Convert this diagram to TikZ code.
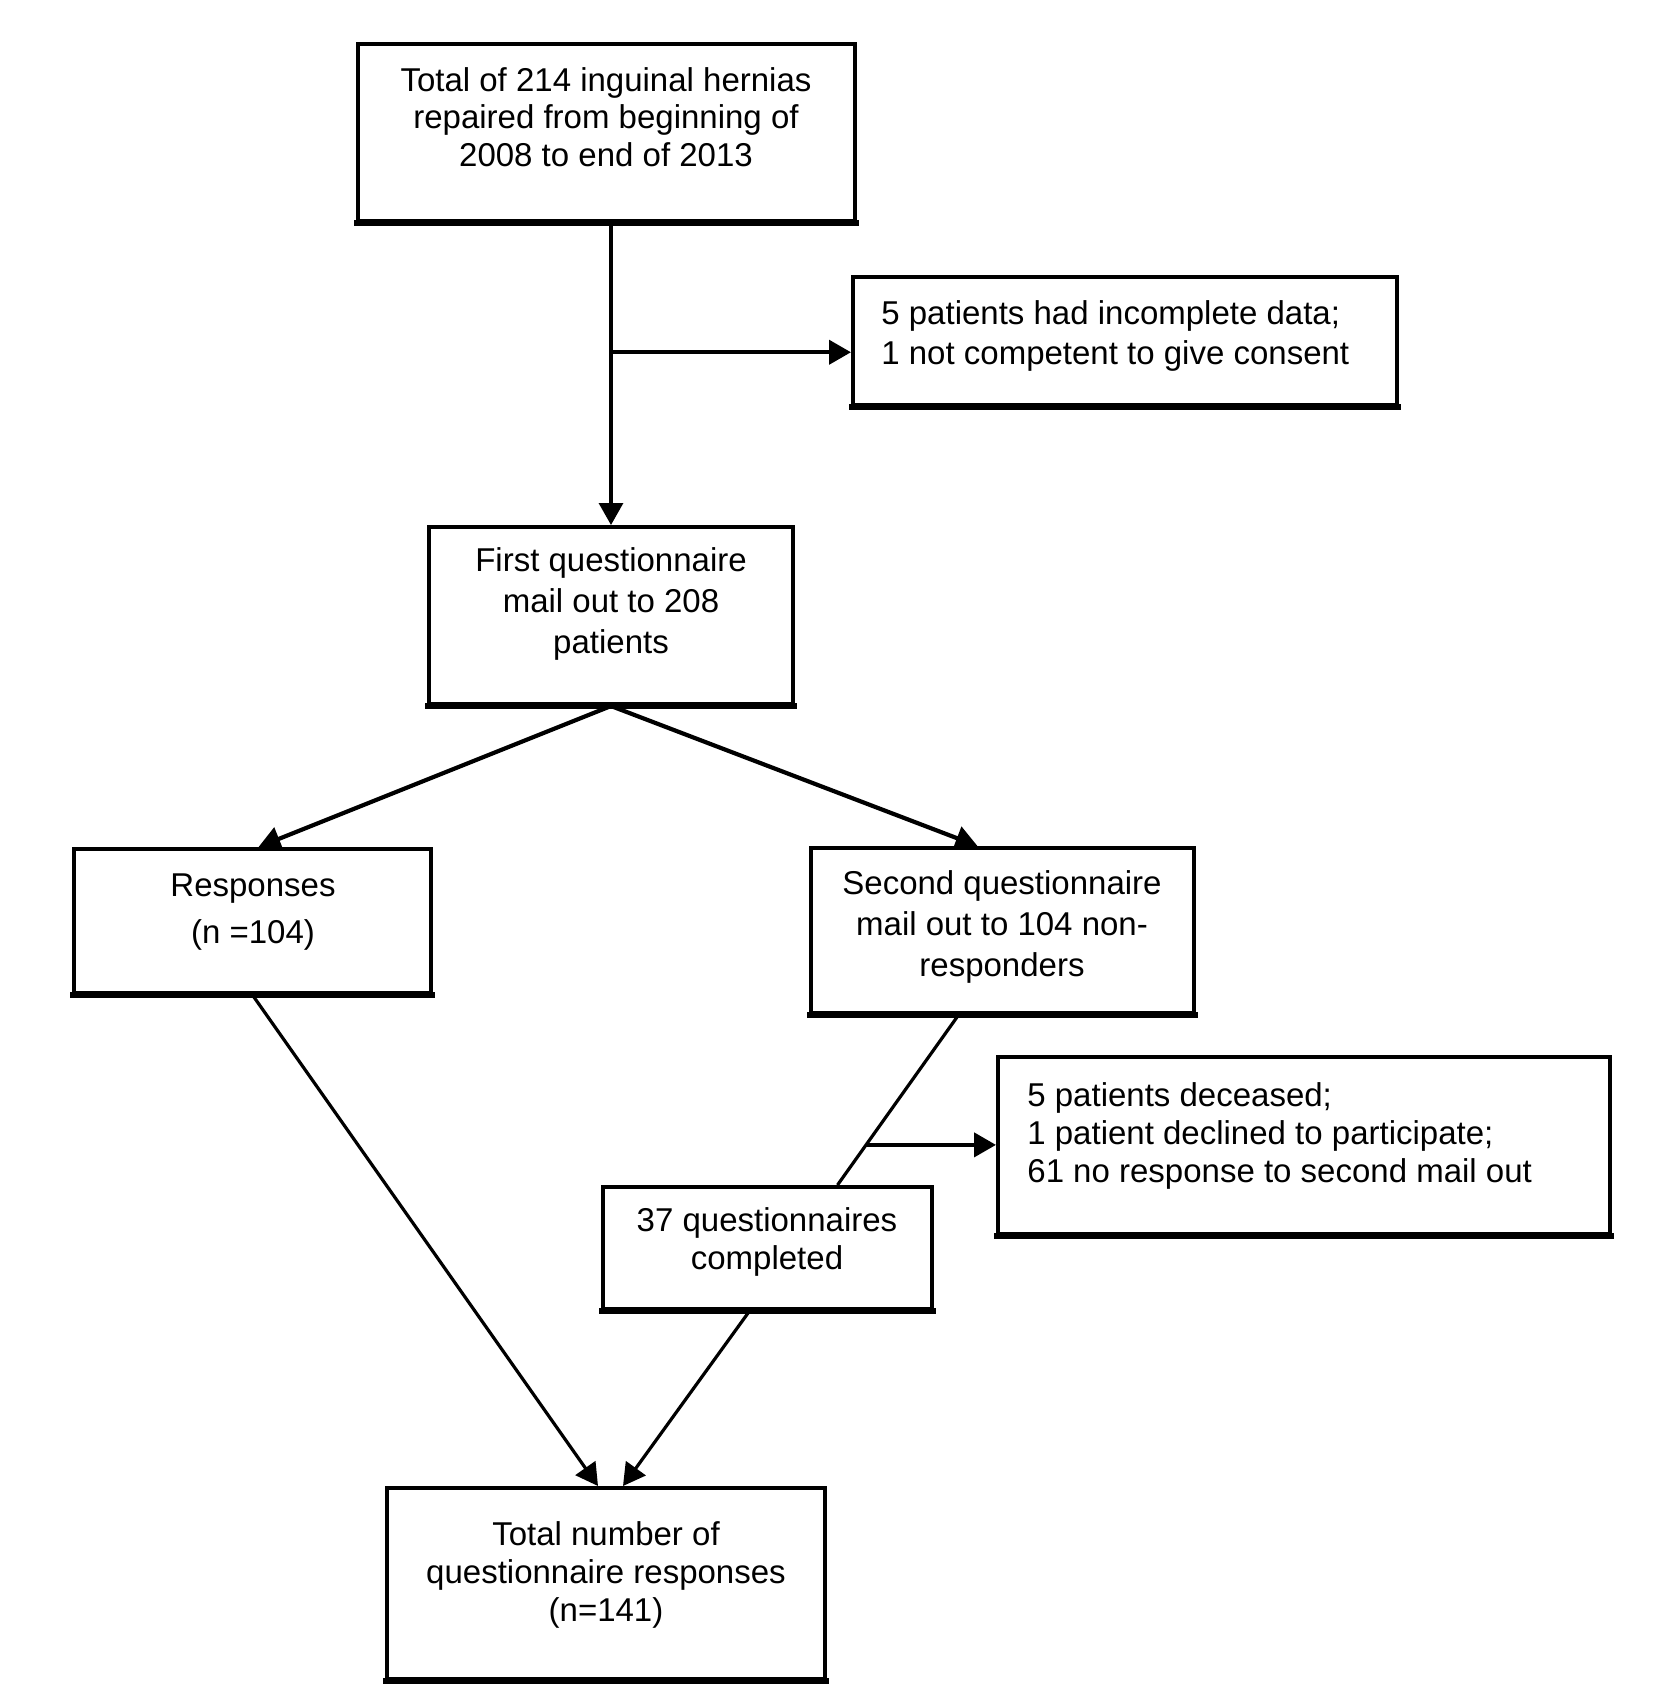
\documentclass[tikz,border=0pt]{standalone}
\usepackage{fontspec}
\setmainfont{Liberation Sans}
\usetikzlibrary{arrows.meta,calc}
\begin{document}
\begin{tikzpicture}[x=0.5pt,y=-0.5pt,
  box/.style={draw=black, line width=2pt, inner sep=0pt, fill=none},
  txt/.style={font=\fontsize{16.5pt}{#1}\selectfont, align=center, inner sep=0pt},
  txt/.default=19.5pt,
  txtl/.style={txt=#1, align=left, anchor=west},
  txtl/.default=19.5pt,
  conn/.style={line width=1.6pt},
  thick conn/.style={line width=2.1pt},
  tip/.style={-{Triangle[length=11pt,width=12pt]}}]
\useasboundingbox (0,0) rectangle (1654,1708);

% boxes
\node[box, minimum width=248.5pt, minimum height=88.5pt] (top) at (606.5,132.5) {};
\node[box, minimum width=272pt, minimum height=64pt] (excl) at (1125,341) {};
\node[box, minimum width=182pt, minimum height=88.5pt] (first) at (611,615.5) {};
\node[box, minimum width=178.5pt, minimum height=72pt] (resp) at (252.5,921) {};
\node[box, minimum width=191.5pt, minimum height=82.5pt] (sec) at (1002.5,930.5) {};
\node[box, minimum width=306pt, minimum height=88.5pt] (dec) at (1304,1145.5) {};
\node[box, minimum width=164.5pt, minimum height=61pt] (q37) at (767.5,1248) {};
\node[box, minimum width=219pt, minimum height=95.5pt] (total) at (606,1583.5) {};

% heavier bottom edges, as in the scan
\foreach \b in {top,excl,first,resp,sec,dec,q37,total}
  \draw[line width=3pt] ([xshift=-1pt]\b.south west) -- ([xshift=1pt]\b.south east);

% texts
\node[txt=18.8pt] (toptxt) at (606,117) {Total of 214 inguinal hernias\\repaired from beginning of\\2008 to end of 2013};
\node[txtl=20.2pt] (excltxt) at (881,336) {5 patients had incomplete data;\\1 not competent to give consent};
\node[txt=20.4pt] (firsttxt) at (611,604) {First questionnaire\\mail out to 208\\patients};
\node[txt=23.4pt] (resptxt) at (253,912) {Responses\\(n =104)};
\node[txt=20.7pt] (sectxt) at (1002,927) {Second questionnaire\\mail out to 104 non-\\responders};
\node[txtl=19.1pt] (dectxt) at (1027,1136) {5 patients deceased;\\1 patient declined to participate;\\61 no response to second mail out};
\node[txt=19.1pt] (q37txt) at (767,1242) {37 questionnaires\\completed};
\node[txt=19.1pt] (totaltxt) at (606,1575) {Total number of\\questionnaire responses\\(n=141)};

% connectors
\draw[conn, tip] (first.north |- top.south) -- coordinate[pos=0.428] (br1) (first.north);
\draw[thick conn, tip] (br1) -- (br1 -| excl.west);
\draw[thick conn, tip] (first.south) -- ($(resp.north)+(6,0)$);
\draw[thick conn, tip] (first.south) -- ($(sec.north)+(-25,0)$);
\draw[conn, tip] (resp.south) -- ($(total.north)+(-8,0)$);
\draw[conn] ($(sec.south)+(-44,0)$) -- coordinate[pos=0.764] (br2) ($(q37.north)+(70,0)$);
\draw[thick conn, tip] (br2) -- (br2 -| dec.west);
\draw[conn, tip] ($(q37.south)+(-18,0)$) -- ($(total.north)+(17,0)$);
\end{tikzpicture}
\end{document}
